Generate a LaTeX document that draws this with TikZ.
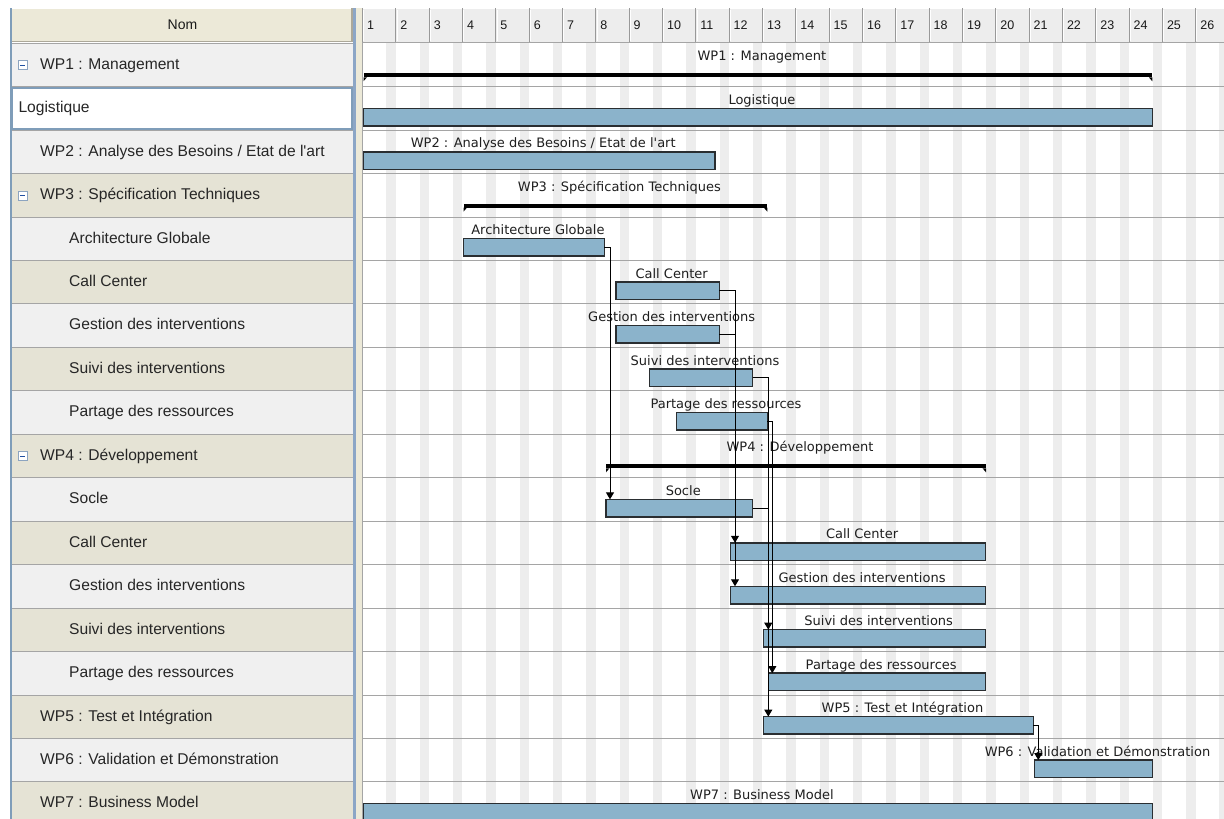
\documentclass[tikz,border=0pt]{standalone}
\usepackage{fontspec}
\setmainfont{Liberation Sans}
\newfontfamily\gfont{DejaVu Sans}
\usetikzlibrary{arrows.meta,calc}
\definecolor{barfill}{HTML}{8BB3CB}
\definecolor{barline}{HTML}{2A2E31}
\definecolor{stripe}{HTML}{EDEDED}
\definecolor{gridline}{HTML}{A5A5A5}
\definecolor{hdrgray}{HTML}{EDEDED}
\definecolor{hdrsep}{HTML}{999999}
\definecolor{beige}{HTML}{E5E3D5}
\definecolor{lightrow}{HTML}{F0F0F0}
\definecolor{nomhdr}{HTML}{ECE9D8}
\definecolor{nomedge}{HTML}{ACA899}
\definecolor{splitblue}{HTML}{8CA6C6}
\definecolor{selborder}{HTML}{7F9DB9}
\definecolor{iconborder}{HTML}{8CA4C0}
\definecolor{iconminus}{HTML}{2050A0}
\tikzset{
  barbox/.style={draw=barline, fill=barfill, line width=1.5pt, inner sep=0pt, outer sep=0pt, minimum height=17.5pt, anchor=north west},
  sumbox/.style={fill=black, inner sep=0pt, outer sep=0pt, minimum height=4pt, anchor=north west},
  glabel/.style={font=\gfont\fontsize{13}{15}\selectfont, text=black!88, inner sep=0pt, anchor=base},
  ltext/.style={font=\fontsize{15.6}{18}\selectfont, text=black!85, inner sep=0pt, anchor=base west},
  hnum/.style={font=\fontsize{12.5}{14}\selectfont, text=black!90, inner sep=0pt, anchor=base west},
  link/.style={draw=black, line width=1pt, -{Triangle[width=8pt,length=7pt]}},
  gridln/.style={draw=gridline, line width=1pt},
}
\newcommand\gbar[5]{%
  \pgfmathsetmacro\myrt{43.25+(#2-1)*43.45}%
  \pgfmathsetmacro\mybw{#4-#3}%
  \node[barbox, minimum width=\mybw pt] (#1) at (#3,\myrt+21.6) {};%
  \node[glabel] (#1l) at ($(#1.north)+(4,-4)$) {#5};%
}
\newcommand\gsum[5]{%
  \pgfmathsetmacro\myrt{43.25+(#2-1)*43.45}%
  \pgfmathsetmacro\mybw{#4-#3}%
  \node[sumbox, minimum width=\mybw pt] (#1) at (#3,\myrt+30) {};%
  \fill (#1.south west) -- ++(0,4) -- ++(3.5,-4) -- cycle;%
  \fill (#1.south east) -- ++(0,4) -- ++(-3.5,-4) -- cycle;%
  \node[glabel] (#1l) at ($(#1.north)+(4,-12.5)$) {#5};%
}
\newcommand\lrow[5]{%
  \pgfmathsetmacro\myrt{43.25+(#2-1)*43.45}%
  \fill[#3] (11,\myrt) rectangle (352.5,\myrt+43.45);%
  \draw[gridln] (11,\myrt) -- (352.5,\myrt);%
  \node[ltext] (#1) at (#4,\myrt+26) {#5};%
}
\newcommand\licon[1]{%
  \pgfmathsetmacro\myrt{43.25+(#1-1)*43.45}%
  \draw[draw=iconborder, fill=white, line width=0.9pt] (18,\myrt+17.5) rectangle (27,\myrt+26.5);%
  \draw[draw=iconminus, line width=1.2pt] (20.2,\myrt+22) -- (24.8,\myrt+22);%
}
\begin{document}
\begin{tikzpicture}[x=1pt,y=-1pt]
\useasboundingbox (0,0) rectangle (1224,819);
\clip (0,0) rectangle (1224,819);
\fill[white] (0,0) rectangle (1224,819);
% ---------- left panel ----------
\fill[nomhdr] (11,8.3) rectangle (352.5,42);
\draw[white, line width=1pt] (11.5,42) -- (11.5,8.8) -- (352,8.8);
\draw[nomedge, line width=1.2pt] (11,41.6) -- (352,41.6) -- (352,8.3);
\node[font=\fontsize{14}{16}\selectfont, text=black!90, inner sep=0pt, anchor=base] (nom) at (182.5,29.5) {Nom};
\lrow{n1}{1}{lightrow}{40}{WP1 : Management}
\lrow{n2}{2}{white}{18.3}{Logistique}
\lrow{n3}{3}{lightrow}{40}{WP2 : Analyse des Besoins / Etat de l\textquotesingle art}
\lrow{n4}{4}{beige}{40}{WP3 : Spécification Techniques}
\lrow{n5}{5}{lightrow}{69}{Architecture Globale}
\lrow{n6}{6}{beige}{69}{Call Center}
\lrow{n7}{7}{lightrow}{69}{Gestion des interventions}
\lrow{n8}{8}{beige}{69}{Suivi des interventions}
\lrow{n9}{9}{lightrow}{69}{Partage des ressources}
\lrow{n10}{10}{beige}{40}{WP4 : Développement}
\lrow{n11}{11}{lightrow}{69}{Socle}
\lrow{n12}{12}{beige}{69}{Call Center}
\lrow{n13}{13}{lightrow}{69}{Gestion des interventions}
\lrow{n14}{14}{beige}{69}{Suivi des interventions}
\lrow{n15}{15}{lightrow}{69}{Partage des ressources}
\lrow{n16}{16}{beige}{40}{WP5 : Test et Intégration}
\lrow{n17}{17}{lightrow}{40}{WP6 : Validation et Démonstration}
\lrow{n18}{18}{beige}{40}{WP7 : Business Model}
\draw[selborder, line width=1.6pt] (12,87.7) rectangle (351.7,129.2);
\licon{1}\licon{4}\licon{10}
\draw[selborder, line width=1.5pt] (11,8.3) -- (11,819);
% splitter
\fill[splitblue] (352.5,8.3) rectangle (356,819);
\fill[nomhdr] (356,8.3) rectangle (361.8,819);
% ---------- gantt header ----------
\fill[hdrgray] (362,8.3) rectangle (1224,42);
\draw[white, line width=1pt] (362,8.8) -- (1224,8.8);
\foreach \k in {0,...,26} {
  \draw[hdrsep, line width=1pt] (362.4+\k*33.33,8.3) -- (362.4+\k*33.33,42);
  \draw[white, line width=0.8pt] (363.6+\k*33.33,9.5) -- (363.6+\k*33.33,41);
}
\foreach \k in {1,...,26} {
  \node[hnum] (h\k) at (362.4+\k*33.33-33.33+4.5,29.3) {\k};
}
\draw[gridln] (362,42) -- (1224,42);
% ---------- gantt body ----------
\foreach \k in {1,...,26} {
  \fill[stripe] (362.4+\k*33.33-9.5,42.5) rectangle (362.4+\k*33.33,819);
}
\foreach \k in {2,...,18} {
  \draw[gridln] (362,43.25+\k*43.45-43.45) -- (1224,43.25+\k*43.45-43.45);
}
\draw[gridln] (362.4,42) -- (362.4,819);
% summaries and bars
\gsum{s1}{1}{363.5}{1152.3}{WP1 : Management}
\gbar{b2}{2}{363.5}{1152.3}{Logistique}
\gbar{b3}{3}{363.5}{715}{WP2 : Analyse des Besoins / Etat de l\textquotesingle art}
\gsum{s4}{4}{463.5}{767.3}{WP3 : Spécification Techniques}
\gbar{b5}{5}{463.5}{604.3}{Architecture Globale}
\gbar{b6}{6}{616}{719.3}{Call Center}
\gbar{b7}{7}{616}{719.3}{Gestion des interventions}
\gbar{b8}{8}{649.3}{752.7}{Suivi des interventions}
\gbar{b9}{9}{676.7}{767.3}{Partage des ressources}
\gsum{s10}{10}{606}{986}{WP4 : Développement}
\gbar{b11}{11}{606}{752.5}{Socle}
\gbar{b12}{12}{730.5}{985.7}{Call Center}
\gbar{b13}{13}{730.5}{985.7}{Gestion des interventions}
\gbar{b14}{14}{763.7}{985.7}{Suivi des interventions}
\gbar{b15}{15}{768.7}{985.7}{Partage des ressources}
\gbar{b16}{16}{763.7}{1033.3}{WP5 : Test et Intégration}
\gbar{b17}{17}{1034.7}{1152.3}{WP6 : Validation et Démonstration}
\gbar{b18}{18}{363.5}{1152.3}{WP7 : Business Model}
% links
\coordinate (xa) at (610,0);
\coordinate (xb) at (735,0);
\coordinate (xc) at (768.3,0);
\coordinate (xd) at (772.3,0);
\coordinate (xe) at (1038.3,0);
\draw[link] (b5.east) -| (b11.north -| xa);
\draw[link] (b6.east) -| (b12.north -| xb);
\draw[link] (b7.east) -| (b13.north -| xb);
\draw[link] (b8.east) -| (b14.north -| xc);
\draw[link] (b11.east) -| (b16.north -| xc);
\draw[link] (b9.east) -| (b15.north -| xd);
\draw[link] (b16.east) -| (b17.north -| xe);
\end{tikzpicture}
\end{document}
